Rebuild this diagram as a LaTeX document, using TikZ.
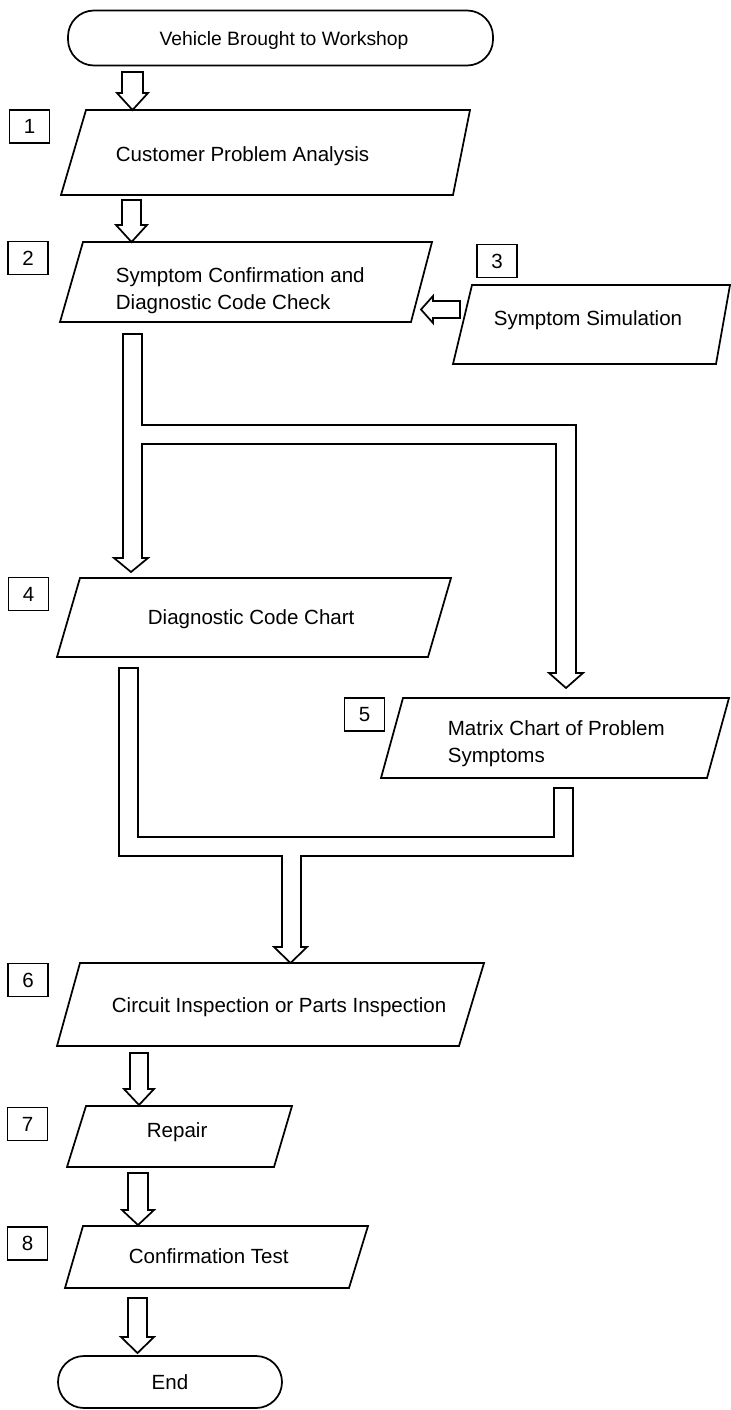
\documentclass[tikz,border=0pt]{standalone}
\usepackage{fontspec}
\setmainfont{Liberation Sans}
\begin{document}
\begin{tikzpicture}[x=0.75pt,y=-0.75pt,line width=1.3pt,line join=miter,
  txt/.style={font=\fontsize{15.4pt}{20.25pt}\selectfont, inner sep=0pt},
  pbox/.style={draw=black},
  barrow/.style={draw=black, fill=white},
  numbox/.style={draw=black, txt, minimum width=40*0.75pt, minimum height=33*0.75pt},
  term/.style={draw=black, txt, rectangle, rounded corners=19.5pt}
]
\fill[white] (0,0) rectangle (731,1410);
\useasboundingbox (0,0) rectangle (731,1410);

% start
\node[term, minimum width=425*0.75pt, minimum height=55*0.75pt] (start) at (280.5,38) {};
\node[txt, font=\fontsize{14.5pt}{18pt}\selectfont] (tstart) at (284,40) {Vehicle Brought to Workshop};

% arrow 1
\draw[barrow] (122,72) -- (143,72) -- (143,93) -- (148,93) -- (132.5,110) -- (117,93) -- (122,93) -- cycle;

% step 1
\node[numbox] (n1) at (29.5,126.5) {1};
\draw[pbox] (86,110) -- (470,110) -- (453,195) -- (61,195) -- cycle;
\node[txt, anchor=base west] (t1) at (115,161) {Customer Problem Analysis};

% arrow 2
\draw[barrow] (122,200) -- (141,200) -- (141,225) -- (147,225) -- (131.5,242) -- (116,225) -- (122,225) -- cycle;

% step 2
\node[numbox] (n2) at (28,258) {2};
\draw[pbox] (83,242) -- (432,242) -- (411,322) -- (60,322) -- cycle;
\node[txt, anchor=north west, align=left] (t2) at (115,267) {Symptom Confirmation and\\Diagnostic Code Check};

% step 3
\node[numbox] (n3) at (497,261) {3};
\draw[pbox] (472,285) -- (730,285) -- (716,364) -- (453,364) -- cycle;
\node[txt, anchor=base west] (t3) at (493,325) {Symptom Simulation};

% arrow 3 -> 2
\draw[barrow] (460,301) -- (460,318) -- (433,318) -- (433,323) -- (421,309.5) -- (433,296) -- (433,301) -- cycle;

% split connector
\draw[barrow] (123,334) -- (142,334) -- (142,425) -- (576,425) -- (576,673) -- (583,673) -- (566,688)
  -- (549,673) -- (556,673) -- (556,444) -- (142,444) -- (142,558) -- (148,558) -- (131,572)
  -- (114,558) -- (123,558) -- cycle;

% step 4
\node[numbox] (n4) at (28.5,594) {4};
\draw[pbox] (80,578) -- (451,578) -- (428,657) -- (57,657) -- cycle;
\node[txt, anchor=base west] (t4) at (147,624) {Diagnostic Code Chart};

% step 5
\node[numbox] (n5) at (364.5,714.5) {5};
\draw[pbox] (403,698) -- (729,698) -- (707,778) -- (381,778) -- cycle;
\node[txt, anchor=north west, align=left] (t5) at (447,720) {Matrix Chart of Problem\\Symptoms};

% merge connector
\draw[barrow] (119,668) -- (138,668) -- (138,837) -- (554,837) -- (554,788) -- (573,788) -- (573,856)
  -- (301,856) -- (301,947) -- (307,947) -- (290.5,963) -- (274,947) -- (282,947) -- (282,856)
  -- (119,856) -- cycle;

% step 6
\node[numbox] (n6) at (28,980) {6};
\draw[pbox] (80,963) -- (484,963) -- (459,1046) -- (57,1046) -- cycle;
\node[txt, anchor=base west] (t6) at (111,1012) {Circuit Inspection or Parts Inspection};

% arrow 6
\draw[barrow] (130,1053) -- (148,1053) -- (148,1089) -- (154,1089) -- (139,1105) -- (124,1089) -- (130,1089) -- cycle;

% step 7
\node[numbox] (n7) at (27.5,1124) {7};
\draw[pbox] (86,1106) -- (292,1106) -- (274,1167) -- (67,1167) -- cycle;
\node[txt, anchor=base west] (t7) at (146,1137) {Repair};

% arrow 7
\draw[barrow] (128,1173) -- (148,1173) -- (148,1210) -- (154,1210) -- (138,1225) -- (122,1210) -- (128,1210) -- cycle;

% step 8
\node[numbox] (n8) at (27.5,1243.5) {8};
\draw[pbox] (83,1226) -- (368,1226) -- (349,1288) -- (65,1288) -- cycle;
\node[txt, anchor=base west] (t8) at (128,1263) {Confirmation Test};

% arrow 8
\draw[barrow] (128,1298) -- (147,1298) -- (147,1337) -- (154,1337) -- (137.5,1353) -- (121,1337) -- (128,1337) -- cycle;

% end
\node[term, minimum width=224*0.75pt, minimum height=52*0.75pt] (end) at (170,1382) {End};
\end{tikzpicture}
\end{document}
